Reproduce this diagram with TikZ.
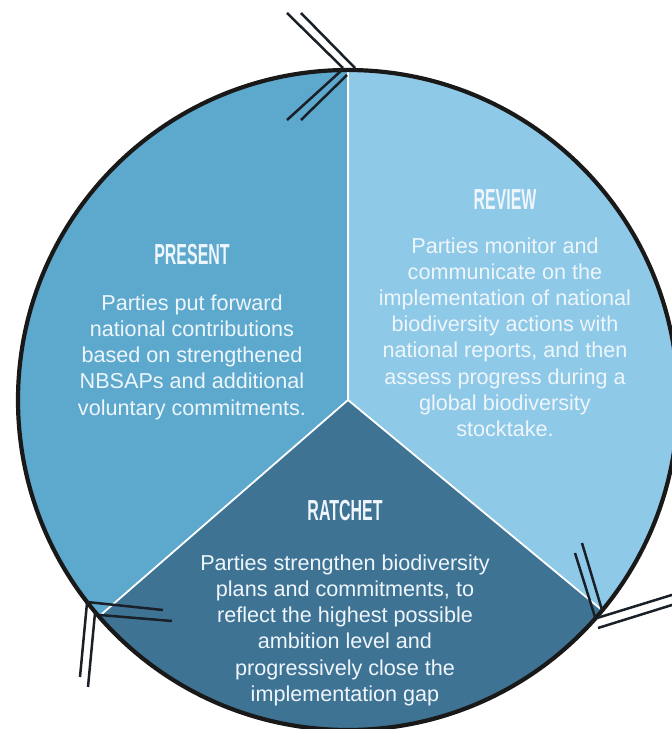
\documentclass[tikz,border=0pt]{standalone}
\usepackage{fontspec}
\setmainfont{Liberation Sans}
\usetikzlibrary{positioning}
\definecolor{presentColor}{RGB}{93,169,206}
\definecolor{reviewColor}{RGB}{143,201,232}
\definecolor{ratchetColor}{RGB}{63,115,148}
\definecolor{markColor}{RGB}{26,32,40}
\definecolor{textColor}{RGB}{238,246,251}
\tikzstyle{cycleRing} = [draw=black!90, line width=4.2pt]
\tikzstyle{dividerLine} = [draw=white, line width=1.8pt]
\tikzstyle{markLine} = [draw=markColor, line width=2.5pt]
\tikzstyle{headText} = [text=textColor, font=\bfseries\fontsize{29}{29}\selectfont, inner sep=0pt]
\tikzstyle{bodyText} = [text=textColor, font=\fontsize{21.6}{26.2}\selectfont, align=center, inner sep=0pt, anchor=north]
\newcommand{\ringRadius}{330}
\newcommand{\cycleSector}[3]{\fill [#1] (hub) -- (#2:\ringRadius) arc [start angle=#2, end angle=#3, radius=\ringRadius] -- cycle;}
\newcommand{\stageTitle}[1]{\scalebox{.55}[1]{#1}}
\newcommand{\markPair}[4]{\draw [markLine] #1 -- #2; \draw [markLine] #3 -- #4;}

\begin{document}
\begin{tikzpicture}[x=1pt, y=1pt]
  \useasboundingbox (-348,-329) rectangle (324,400);
  \clip (-348,-329) rectangle (324,400);
  \coordinate (hub) at (0,0);

  % three stages of the cycle
  \cycleSector{presentColor}{90}{221}
  \cycleSector{ratchetColor}{221}{320.4}
  \cycleSector{reviewColor}{-39.6}{90}
  \foreach \angle in {90,221,320.4} {
    \draw [dividerLine] (hub) -- (\angle:\ringRadius);
  }
  \draw [cycleRing] (hub) circle [radius=\ringRadius];

  % double strokes where the stages meet
  \markPair{(-61,387)}{(-5,332)}{(-47,387)}{(7,332)}
  \markPair{(-6,330)}{(-61,280)}{(-1,325)}{(-47,280)}
  \markPair{(227,-153)}{(247,-217)}{(234,-143)}{(254,-210)}
  \markPair{(249,-218)}{(340,-190)}{(250,-228)}{(340,-200)}
  \markPair{(-261,-203)}{(-268,-277)}{(-253,-213)}{(-260,-287)}
  \markPair{(-261,-202)}{(-185,-210)}{(-248,-215)}{(-176,-221)}

  % texts
  \node [headText] (presentTitle) at (-156,145) {\stageTitle{PRESENT}};
  \node [bodyText, below=29pt of presentTitle] (presentText) {Parties put forward\\national contributions\\based on strengthened\\NBSAPs and additional\\voluntary commitments.};

  \node [headText] (reviewTitle) at (157,200) {\stageTitle{REVIEW}};
  \node [bodyText, below=27pt of reviewTitle] (reviewText) {Parties monitor and\\communicate on the\\implementation of national\\biodiversity actions with\\national reports, and then\\assess progress during a\\global biodiversity\\stocktake.};

  \node [headText] (ratchetTitle) at (-3,-111) {\stageTitle{RATCHET}};
  \node [bodyText, below=33pt of ratchetTitle] (ratchetText) {Parties strengthen biodiversity\\plans and commitments, to\\reflect the highest possible\\ambition level and\\progressively close the\\implementation gap};
\end{tikzpicture}
\end{document}
